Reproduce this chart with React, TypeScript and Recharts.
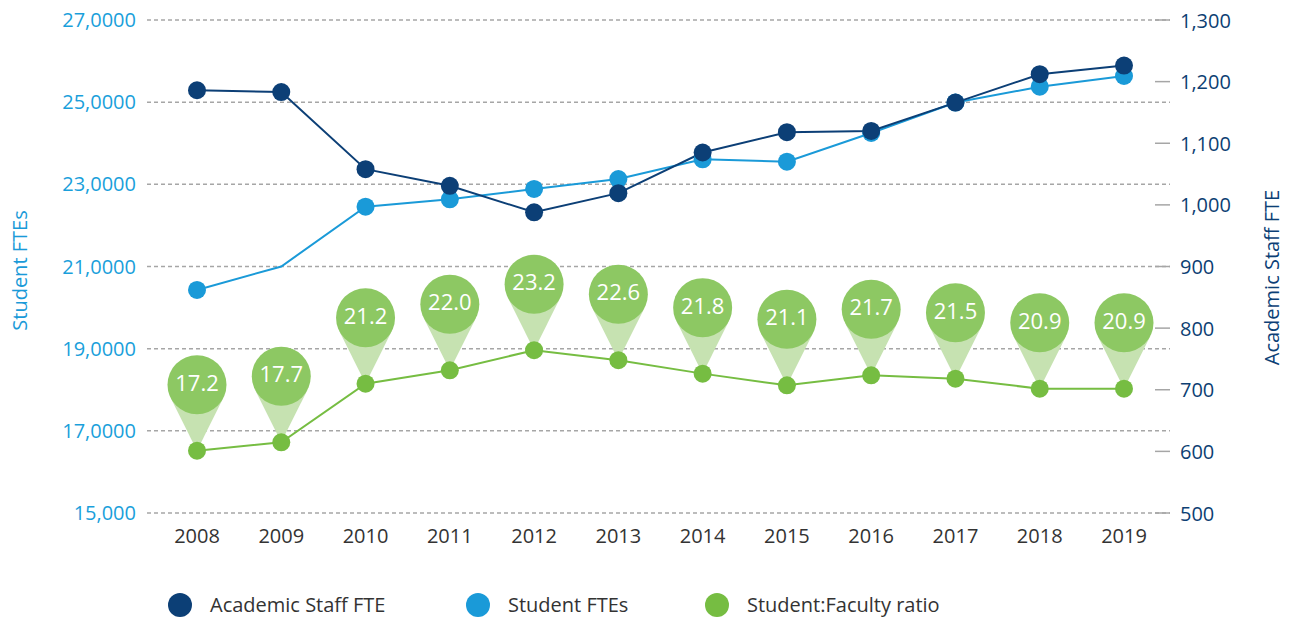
import { CartesianGrid, ComposedChart, Legend, Line, XAxis, YAxis } from "recharts";

const years = ["2008", "2009", "2010", "2011", "2012", "2013", "2014", "2015", "2016", "2017", "2018", "2019"];
const academicStaffFte = [1186, 1183, 1058, 1031, 988, 1019, 1085, 1118, 1120, 1166, 1212, 1226];
const studentFtes = [20430, 21000, 22456, 22636, 22887, 23130, 23610, 23551, 24250, 24990, 25376, 25637];
const studentFacultyRatio = [17.2, 17.7, 21.2, 22.0, 23.2, 22.6, 21.8, 21.1, 21.7, 21.5, 20.9, 20.9];

const studentTicks = [15000, 17000, 19000, 21000, 23000, 25000, 27000];
const studentTickLabels = ["15,000", "17,0000", "19,0000", "21,0000", "23,0000", "25,0000", "27,0000"];
const staffTicks = [500, 600, 700, 800, 900, 1000, 1100, 1200, 1300];
const staffTickLabels = ["500", "600", "700", "800", "900", "1,000", "1,100", "1,200", "1,300"];

// the 2009 student value has no marker in the source
const studentYearsWithoutMarker = ["2009"];

const NAVY = "#0c3f76";
const BLUE = "#1a9ad8";
const GREEN = "#76bd42";
const BUBBLE = "#8dc863";
const CONE = "#c6e2b1";
const FONT = "'Open Sans', 'Noto Sans', sans-serif";

const data = years.map((year, i) => ({
  year,
  staff: academicStaffFte[i],
  students: studentFtes[i],
  ratio: studentFacultyRatio[i],
}));

function RatioBubble(props: any) {
  const { cx, cy, value, index } = props;
  if (cx == null || cy == null) return <g key={`r-${index}`} />;
  const lift = 66;
  const r = 29.5;
  const cy0 = cy - lift;
  const a = Math.acos(r / lift);
  const tx = r * Math.sin(a);
  const ty = r * Math.cos(a);
  return (
    <g key={`r-${index}`}>
      <polygon fill={CONE} points={`${cx},${cy} ${cx - tx},${cy0 + ty} ${cx + tx},${cy0 + ty}`} />
      <circle cx={cx} cy={cy0} fill={BUBBLE} r={r} />
      <text
        dominantBaseline="central"
        fill="#fff"
        fontFamily={FONT}
        fontSize={22}
        textAnchor="middle"
        x={cx}
        y={cy0 - 3}
      >
        {Number(value).toFixed(1)}
      </text>
      <circle cx={cx} cy={cy} fill={GREEN} r={9} />
    </g>
  );
}

function StudentDot(props: any) {
  const { cx, cy, payload, index } = props;
  if (studentYearsWithoutMarker.includes(payload.year)) return <g key={`s-${index}`} />;
  return <circle cx={cx} cy={cy} fill={BLUE} key={`s-${index}`} r={9} />;
}

function StaffTick(props: any) {
  const { x, y, payload } = props;
  const idx = staffTicks.indexOf(payload.value);
  return (
    <g>
      <line stroke="#a6a6a6" strokeWidth={1.5} x1={x - 15} x2={x} y1={y} y2={y} />
      <text dominantBaseline="central" fill="#0d3f73" fontFamily={FONT} fontSize={20} x={x + 10} y={y}>
        {staffTickLabels[idx]}
      </text>
    </g>
  );
}

const legendOrder = [
  { name: "Academic Staff FTE", left: 168 },
  { name: "Student FTEs", left: 466 },
  { name: "Student:Faculty ratio", left: 705 },
];

function LegendContent(props: any) {
  const payload: any[] = props.payload ?? [];
  return (
    <div style={{ position: "relative", width: 1295, height: 30, fontFamily: FONT }}>
      {legendOrder.map((item) => {
        const entry = payload.find((p) => p.value === item.name);
        return (
          <div key={item.name} style={{ position: "absolute", left: item.left, top: 3, display: "flex", alignItems: "center" }}>
            <span
              style={{ display: "inline-block", width: 24, height: 24, borderRadius: 12, background: entry?.color ?? "#999" }}
            />
            <span style={{ marginLeft: 18, fontSize: 20, lineHeight: "24px", color: "#333" }}>{item.name}</span>
          </div>
        );
      })}
    </div>
  );
}

export default function App() {
  return (
    <div style={{ position: "absolute", left: 0, top: 0, width: 1295, height: 621, background: "#fff" }}>
      <ComposedChart data={data} height={621} margin={{ top: 20, right: 0, bottom: 68, left: 0 }} width={1295}>
        <CartesianGrid stroke="#a6a6a6" strokeDasharray="4 3" strokeWidth={1.5} vertical={false} yAxisId="left" />
        <XAxis
          axisLine={false}
          dataKey="year"
          height={40}
          interval={0}
          padding={{ left: 50, right: 46 }}
          tick={{ fill: "#333", fontSize: 20, fontFamily: FONT }}
          tickLine={false}
          tickMargin={16}
          tickSize={0}
        />
        <YAxis
          axisLine={false}
          domain={[15000, 27000]}
          label={(p: any) => {
            const vb = p.viewBox;
            const cx = vb.x + 19;
            const cy = vb.y + vb.height / 2 + 4;
            return (
              <text
                dominantBaseline="central"
                fill={BLUE}
                fontFamily={FONT}
                fontSize={20}
                textAnchor="middle"
                transform={`rotate(-90, ${cx}, ${cy})`}
                x={cx}
                y={cy}
              >
                Student FTEs
              </text>
            );
          }}
          tick={{ fill: "#1a9fdb", fontSize: 20, fontFamily: FONT }}
          tickFormatter={(v: number) => studentTickLabels[studentTicks.indexOf(v)] ?? String(v)}
          tickLine={false}
          tickMargin={11}
          tickSize={0}
          ticks={studentTicks}
          width={147}
          yAxisId="left"
        />
        <YAxis
          axisLine={false}
          domain={[500, 1300]}
          label={(p: any) => {
            const vb = p.viewBox;
            const cx = vb.x + 101;
            const cy = vb.y + vb.height / 2 + 11;
            return (
              <text
                dominantBaseline="central"
                fill={NAVY}
                fontFamily={FONT}
                fontSize={20}
                textAnchor="middle"
                transform={`rotate(-90, ${cx}, ${cy})`}
                x={cx}
                y={cy}
              >
                Academic Staff FTE
              </text>
            );
          }}
          orientation="right"
          tick={<StaffTick />}
          tickLine={false}
          tickMargin={0}
          tickSize={0}
          ticks={staffTicks}
          width={125}
          yAxisId="right"
        />
        <YAxis domain={[13.48, 42.91]} hide yAxisId="ratio" />
        <Legend
          align="center"
          content={<LegendContent />}
          layout="horizontal"
          verticalAlign="middle"
          wrapperStyle={{ top: 590, left: 0, width: 1295 }}
        />
        <Line
          dataKey="ratio"
          dot={<RatioBubble />}
          activeDot={false}
          isAnimationActive={false}
          name="Student:Faculty ratio"
          stroke={GREEN}
          strokeWidth={2}
          yAxisId="ratio"
        />
        <Line
          dataKey="students"
          dot={<StudentDot />}
          activeDot={false}
          isAnimationActive={false}
          name="Student FTEs"
          stroke={BLUE}
          strokeWidth={2}
          yAxisId="left"
        />
        <Line
          dataKey="staff"
          dot={{ r: 9, fill: NAVY, stroke: "none" }}
          activeDot={false}
          isAnimationActive={false}
          name="Academic Staff FTE"
          stroke={NAVY}
          strokeWidth={2}
          yAxisId="right"
        />
      </ComposedChart>
    </div>
  );
}
